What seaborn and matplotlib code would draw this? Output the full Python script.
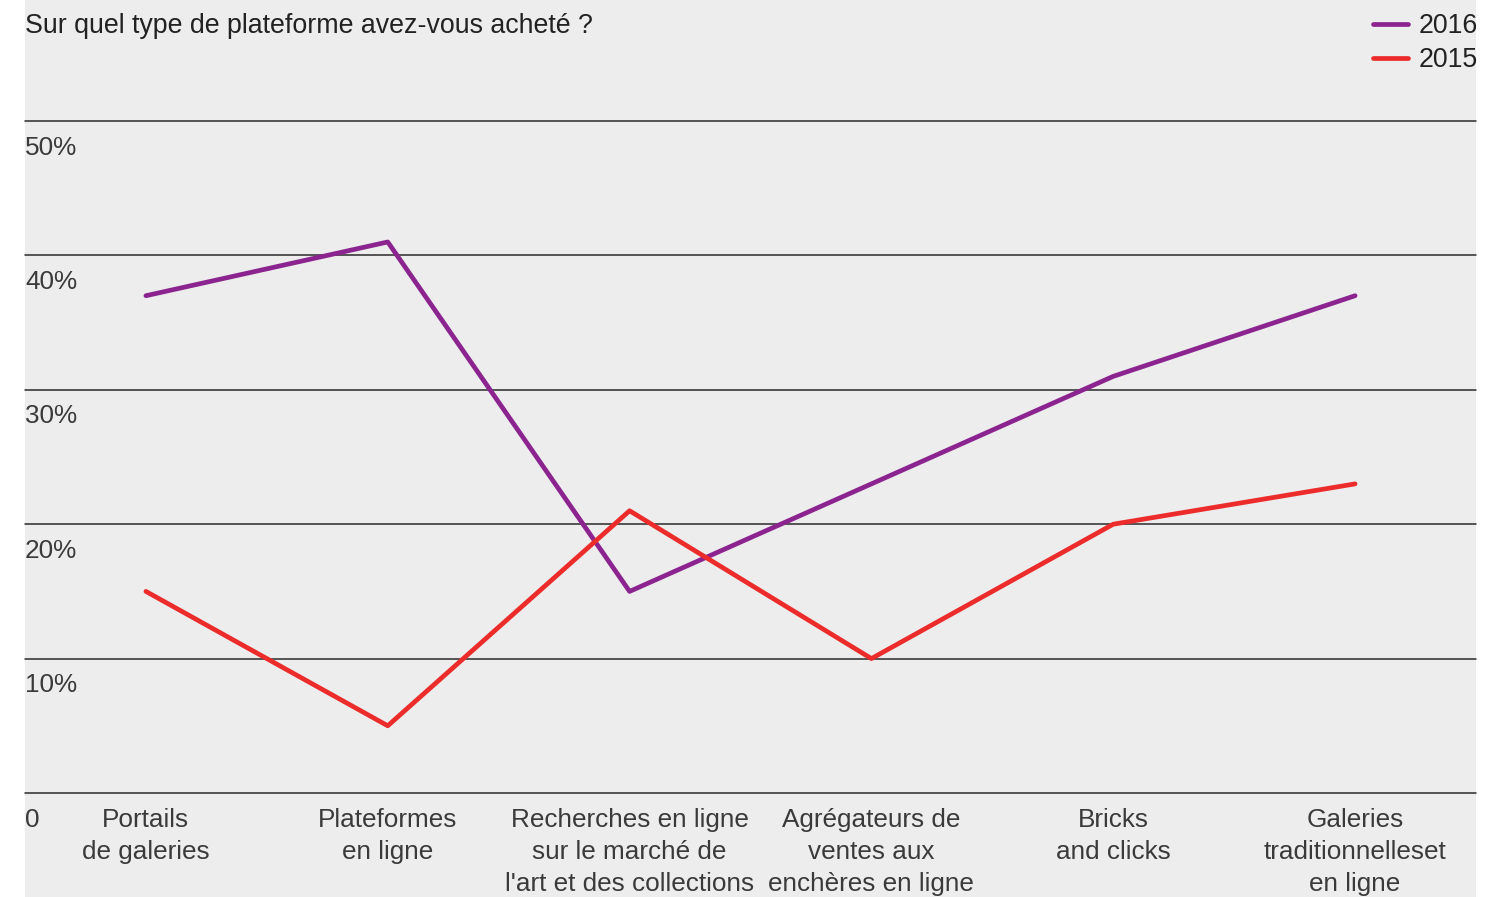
import matplotlib
matplotlib.use("Agg")
import matplotlib.pyplot as plt
import matplotlib.transforms as mtransforms
from matplotlib.patches import Rectangle
from matplotlib.lines import Line2D
import pandas as pd
import seaborn as sns

# Survey data: share of buyers per platform type (%)
categories = [
    "Portails\nde galeries",
    "Plateformes\nen ligne",
    "Recherches en ligne\nsur le marché de\nl'art et des collections",
    "Agrégateurs de\nventes aux\nenchères en ligne",
    "Bricks\nand clicks",
    "Galeries\ntraditionnelleset\nen ligne",
]
values_2016 = [37, 41, 15, 23, 31, 37]
values_2015 = [15, 5, 21, 10, 20, 23]
years = ["2016", "2015"]
year_colors = {"2016": "#8c2490", "2015": "#ec2b2b"}
y_ticks = [0, 10, 20, 30, 40, 50]
y_tick_labels = ["0", "10%", "20%", "30%", "40%", "50%"]
title = "Sur quel type de plateforme avez-vous acheté ?"

df = pd.DataFrame({
    "platform": categories * 2,
    "share": values_2016 + values_2015,
    "year": ["2016"] * len(categories) + ["2015"] * len(categories),
})

sns.set_theme(style="white")
plt.rcParams["font.family"] = ["Liberation Sans", "DejaVu Sans"]

W, H = 1504, 897
FS = 19.3
TICK_FS = 18.8
LW = 3.4
fig = plt.figure(figsize=(W / 100, H / 100), dpi=100, facecolor="white")

# grey panel behind the whole chart
fig.patches.append(Rectangle((25 / W, 0), (1476 - 25) / W, 1, transform=fig.transFigure,
                             facecolor="#ededed", edgecolor="none", zorder=-10))

ax = fig.add_axes([25 / W, (H - 793) / H, (1476 - 25) / W, (793 - 121) / H])
ax.set_facecolor("none")

sns.lineplot(data=df, x="platform", y="share", hue="year", hue_order=years,
             palette=year_colors, sort=False, linewidth=LW, ax=ax, legend=False,
             zorder=3)
for ln in ax.lines:
    ln.set_solid_capstyle("round")
    ln.set_solid_joinstyle("round")

ax.set_xlim(-0.5, len(categories) - 0.5)
ax.set_ylim(0, 50)
ax.set_yticks(y_ticks)
ax.set_yticklabels([])
ax.tick_params(axis="y", length=0)
ax.yaxis.grid(True, color="#2a2a2a", linewidth=1.1)
ax.xaxis.grid(False)
for gl in ax.get_ygridlines():
    gl.set_clip_on(False)
for s in ax.spines.values():
    s.set_visible(False)
ax.set_xlabel("")
ax.set_ylabel("")

ax.set_xticks(range(len(categories)))
ax.set_xticklabels(categories, linespacing=1.42, ha="center", va="top")
ax.tick_params(axis="x", length=0, pad=10.5, labelsize=TICK_FS, labelcolor="#3a3a3a")

# percentage labels sit just under each gridline at the left edge
trans = mtransforms.blended_transform_factory(ax.transAxes, ax.transData)
for v, lab in zip(y_ticks, y_tick_labels):
    ax.annotate(lab, xy=(0, v), xycoords=trans, xytext=(0, -10.5), textcoords="offset points",
                ha="left", va="top", fontsize=TICK_FS, color="#3a3a3a")

fig.text(25 / W, 1 - 26 / H, title, ha="left", va="center", fontsize=FS, color="#222222")

handles = [Line2D([0], [0], color=year_colors[y], linewidth=LW, solid_capstyle="round")
           for y in years]
fig.legend(handles, years, loc="upper right", bbox_to_anchor=(1478 / W, 1 - 13 / H),
           frameon=False, fontsize=FS, handlelength=1.3, handletextpad=0.4,
           labelspacing=0.3, borderpad=0, borderaxespad=0, labelcolor="#222222")

fig.savefig("out.png", dpi=100, facecolor="white")
